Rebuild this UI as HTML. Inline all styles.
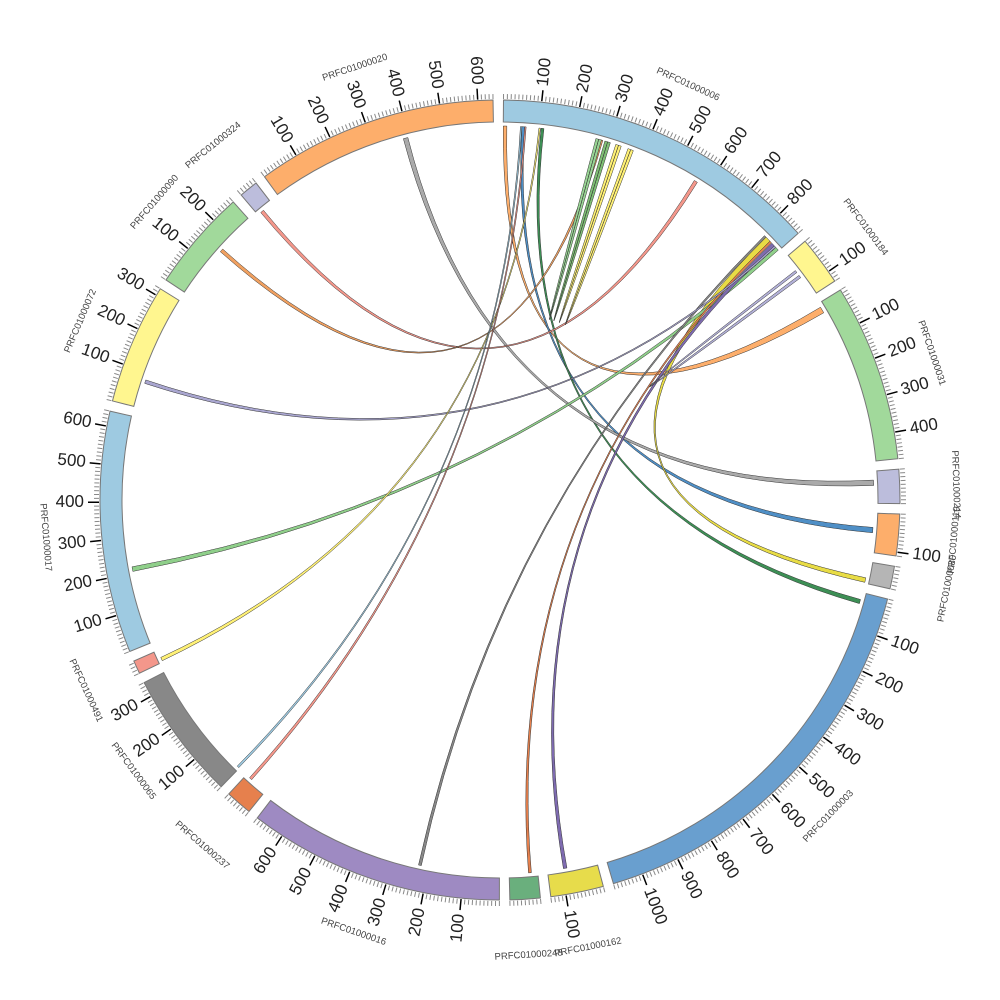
<!DOCTYPE html>
<html><head><meta charset="utf-8"><style>
html,body{margin:0;padding:0;background:#fff;}
svg{display:block;font-family:"Liberation Sans",sans-serif;}
</style></head><body>
<svg id="chart" width="1000" height="1000" viewBox="0 0 1000 1000">
<g id="links"></g>
<g id="segs"></g>
<g id="ticks"></g>
<g id="labels"></g>
</svg>
<script>
const segNames = ["PRFC01000006","PRFC01000184","PRFC01000031","PRFC01000214","PRFC01000119","PRFC01000080","PRFC01000003","PRFC01000162","PRFC01000248","PRFC01000016","PRFC01000237","PRFC01000065","PRFC01000491","PRFC01000017","PRFC01000072","PRFC01000090","PRFC01000324","PRFC01000020"];
const segLengths = [870,130,470,90,110,60,1080,140,80,680,70,340,35,640,320,270,50,640];
const segColors = ["#9ecae1","#fff68f","#a1d99b","#bcbddc","#fdae6b","#b5b5b5","#699fcf","#e7dc4b","#6aaf7d","#9e8ac2","#e6804d","#888888","#f4978b","#9ecae1","#fff68f","#a1d99b","#bcbddc","#fdae6b"];
const linkSrcSeg   = [0,0,0,17,0,13,7,8,9,14,1,16,15,0,0,0,0,12,11,10];
const linkSrcStart = [0,52,106,385,818,205,85,18,220,70,45,10,150,262,288,320,356,4,2,50];
const linkSrcEnd   = [10,60,114,398,834,218,95,26,228,80,52,20,160,270,296,328,364,14,8,58];
const linkTgtSeg   = [2,4,6,3,5,0,0,0,0,0,1,0,0,0,0,0,0,0,0,0];
const linkTgtStart = [12,40,20,25,45,858,842,834,812,852,62,562,275,270,296,328,364,100,48,60];
const linkTgtEnd   = [30,55,32,40,58,868,852,840,818,857,70,572,282,278,304,336,372,104,52,64];
const linkColors = ["#fdae6b","#4f8fc6","#3d8f55","#aaaaaa","#e8dc45","#8fcf8a","#7e6bb0","#e6804d","#888888","#a9a6d0","#b3b1d8","#f4978b","#f0a060","#98d494","#7fbf75","#fff176","#fff176","#fff176","#9ecae1","#f4978b"];

const NS="http://www.w3.org/2000/svg";
const cx=500, cy=500, rIn=378, rOut=400, rLink=374;
const gap=1.5, startOff=0.5;
const total=segLengths.reduce((a,b)=>a+b,0);
const k=(360-gap*segLengths.length)/total;
const segStart=[]; let acc=startOff;
segLengths.forEach(l=>{segStart.push(acc); acc+=l*k+gap;});
function ang(s,p){return segStart[s]+p*k;}
function pt(a,r){const t=a*Math.PI/180;return [cx+r*Math.sin(t), cy-r*Math.cos(t)];}
function f(p){return p[0].toFixed(2)+","+p[1].toFixed(2);}
function mk(tag,attrs,parent){const e=document.createElementNS(NS,tag);for(const k2 in attrs)e.setAttribute(k2,attrs[k2]);parent.appendChild(e);return e;}

const gL=document.getElementById("links"), gS=document.getElementById("segs"), gT=document.getElementById("ticks"), gLb=document.getElementById("labels");

for(let i=0;i<linkSrcSeg.length;i++){
  const a0=ang(linkSrcSeg[i],linkSrcStart[i]), a1=ang(linkSrcSeg[i],linkSrcEnd[i]);
  const b0=ang(linkTgtSeg[i],linkTgtStart[i]), b1=ang(linkTgtSeg[i],linkTgtEnd[i]);
  const d="M"+f(pt(a0,rLink))+" A"+rLink+","+rLink+" 0 0 1 "+f(pt(a1,rLink))+
    " Q"+cx+","+cy+" "+f(pt(b0,rLink))+" A"+rLink+","+rLink+" 0 0 1 "+f(pt(b1,rLink))+
    " Q"+cx+","+cy+" "+f(pt(a0,rLink))+" Z";
  const p=mk("path",{d:d,fill:linkColors[i],stroke:"#333","stroke-width":"0.5"},gL);
  
  
}

for(let s=0;s<segLengths.length;s++){
  const a0=segStart[s], a1=a0+segLengths[s]*k;
  const large=(a1-a0)>180?1:0;
  const d="M"+f(pt(a0,rIn))+" L"+f(pt(a0,rOut))+" A"+rOut+","+rOut+" 0 "+large+" 1 "+f(pt(a1,rOut))+
    " L"+f(pt(a1,rIn))+" A"+rIn+","+rIn+" 0 "+large+" 0 "+f(pt(a0,rIn))+" Z";
  const p=mk("path",{d:d,fill:segColors[s],stroke:"#777","stroke-width":"1"},gS);
  
  
  for(let v=0; v<=segLengths[s]; v+=10){
    const a=ang(s,v); const major=(v%100===0 && v>0);
    const l=mk("line",{},gT);
    const p1=pt(a,rOut+1), p2=pt(a,rOut+(major?12:6));
    l.setAttribute("x1",p1[0]);l.setAttribute("y1",p1[1]);l.setAttribute("x2",p2[0]);l.setAttribute("y2",p2[1]);
    l.setAttribute("stroke",major?"#000":"#888");l.setAttribute("stroke-width",major?"1.5":"1");
    
    
    if(major){
      const lp=pt(a,rOut+16);
      const t=mk("text",{x:lp[0],y:lp[1],"font-size":"17",fill:"#222","dominant-baseline":"middle"},gT);
      const flip=a>180;
      t.setAttribute("text-anchor",flip?"end":"start");
      t.setAttribute("transform","rotate("+(flip?a+90:a-90)+" "+lp[0]+" "+lp[1]+")");
      t.textContent=String(v);
      
      
    }
  }
  const am=(a0+a1)/2, lp=pt(am,456);
  const flip=am>90 && am<270;
  const t=mk("text",{x:lp[0],y:lp[1],"font-size":"9.5",fill:"#444","text-anchor":"middle","dominant-baseline":"middle",
    transform:"rotate("+(flip?am-180:am)+" "+lp[0]+" "+lp[1]+")"},gLb);
  t.textContent=segNames[s];
  
  
}
</script>
</body></html>
